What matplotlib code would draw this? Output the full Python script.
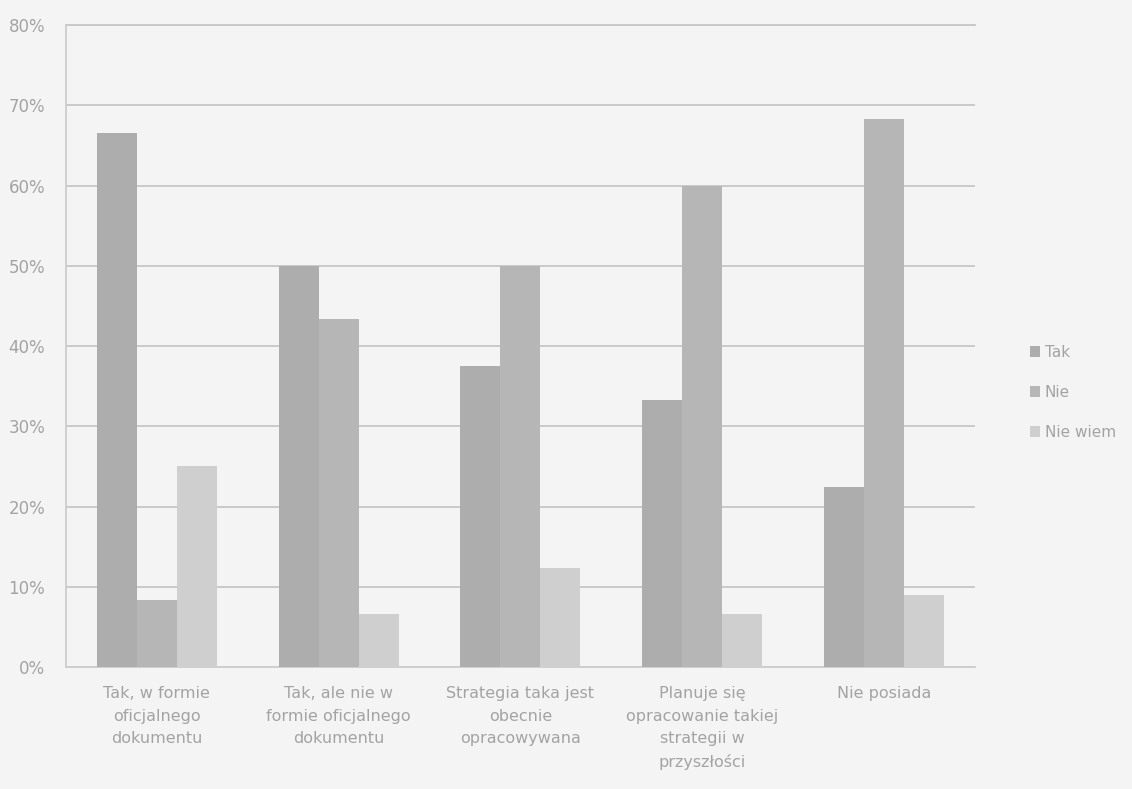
import numpy as np
import matplotlib.pyplot as plt

categories = ["Tak, w formie\noficjalnego\ndokumentu",
              "Tak, ale nie w\nformie oficjalnego\ndokumentu",
              "Strategia taka jest\nobecnie\nopracowywana",
              "Planuje się\nopracowanie takiej\nstrategii w\nprzyszłości",
              "Nie posiada"]
tak = [66.6, 50.0, 37.5, 33.3, 22.4]
nie = [8.3, 43.4, 50.0, 60.0, 68.3]
nie_wiem = [25.0, 6.6, 12.4, 6.6, 9.0]
series = ["Tak", "Nie", "Nie wiem"]
colors = ["#adadad", "#b6b6b6", "#cfcfcf"]

bg = "#f4f4f4"
txt = "#a3a3a3"
plt.rcParams['font.family'] = ['DejaVu Sans']

fig = plt.figure(figsize=(11.32, 7.89), dpi=100, facecolor=bg)
ax = fig.add_axes([0.0583, 0.1546, 0.803, 0.8134], facecolor=bg)

x = np.arange(len(categories))
w = 0.22
for i, (vals, name) in enumerate(zip([tak, nie, nie_wiem], series)):
    ax.bar(x + (i - 1) * w, vals, w, color=colors[i], label=name, zorder=3)

ax.set_xlim(-0.5, 4.5)
ax.set_ylim(0, 80)
ax.set_yticks(range(0, 81, 10))
ax.set_yticklabels([f"{v}%" for v in range(0, 81, 10)], color=txt, fontsize=12)
ax.set_xticks(x)
ax.set_xticklabels(categories, color=txt, fontsize=11.5, linespacing=1.6, va="top")
ax.tick_params(length=0, pad=15)
ax.tick_params(axis="x", pad=14)
ax.yaxis.grid(True, color="#c6c6c6", linewidth=1.3, zorder=0)
ax.axhline(80, color="#c6c6c6", linewidth=1.3, zorder=0, clip_on=False)
for s in ["top", "right"]:
    ax.spines[s].set_visible(False)
ax.spines["left"].set_color("#cdcdcd")
ax.spines["bottom"].set_color("#cdcdcd")
ax.spines["left"].set_linewidth(1.3)
ax.spines["bottom"].set_linewidth(1.3)

leg = ax.legend(loc="center left", bbox_to_anchor=(1.045, 0.428), frameon=False,
                fontsize=11, handlelength=0.7, handleheight=0.7, handletextpad=0.3,
                labelspacing=1.65, labelcolor=txt)

fig.savefig("out.png", dpi=100, facecolor=bg)
